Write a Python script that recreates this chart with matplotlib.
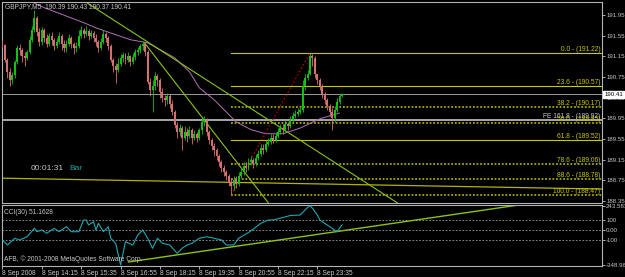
import matplotlib
matplotlib.use("Agg")
import matplotlib.pyplot as plt

plt.rcParams["font.family"] = ["Liberation Sans", "DejaVu Sans"]

# --- price data (GBPJPY M5), open of each bar = previous close ---
header_text = "GBPJPY,M5  190.39 190.43 190.37 190.41"
first_open = 191.43
closes = [
    191.37, 191.08, 190.85, 190.69, 190.79, 191.04, 191.31, 191.27, 191.16, 191.12,
    191.23, 191.47, 191.66, 191.89, 191.62, 191.43, 191.66, 191.51, 191.39, 191.54,
    191.47, 191.35, 191.43, 191.54, 191.39, 191.31, 191.39, 191.51, 191.39, 191.31,
    191.35, 191.54, 191.66, 191.58, 191.64, 191.54, 191.60, 191.51, 191.43, 191.31,
    191.43, 191.58, 191.51, 191.35, 191.08, 190.96, 190.89, 191.00, 191.12, 191.18,
    191.08, 191.16, 191.04, 191.14, 191.23, 191.27, 191.35, 191.39, 191.23, 190.65,
    190.50, 190.58, 190.77, 190.69, 190.46, 190.34, 190.31, 190.38, 190.23, 190.07,
    189.82, 189.69, 189.76, 189.57, 189.69, 189.61, 189.73, 189.57, 189.65, 189.57,
    189.73, 189.88, 189.92, 189.69, 189.53, 189.42, 189.34, 189.22, 189.11, 188.99,
    188.91, 188.84, 188.72, 188.64, 188.76, 188.68, 188.84, 188.91, 189.03, 188.99,
    189.11, 189.15, 189.07, 189.18, 189.26, 189.38, 189.34, 189.46, 189.49, 189.57,
    189.53, 189.61, 189.69, 189.76, 189.73, 189.84, 189.80, 189.92, 190.00, 190.04,
    190.07, 190.11, 190.58, 190.73, 190.81, 191.16, 191.12, 190.81, 190.69, 190.58,
    190.42, 190.31, 190.19, 190.07, 189.96, 190.11, 190.27, 190.39, 190.41,
]
highs = [
    191.47, 191.39, 191.12, 190.92, 190.85, 191.08, 191.37, 191.39, 191.31, 191.23,
    191.27, 191.54, 191.74, 192.05, 191.93, 191.70, 191.72, 191.70, 191.58, 191.60,
    191.62, 191.51, 191.51, 191.62, 191.58, 191.47, 191.47, 191.58, 191.54, 191.43,
    191.43, 191.66, 191.74, 191.70, 191.74, 191.68, 191.66, 191.64, 191.58, 191.47,
    191.51, 191.66, 191.62, 191.54, 191.39, 191.12, 191.02, 191.12, 191.20, 191.23,
    191.22, 191.23, 191.18, 191.22, 191.29, 191.33, 191.39, 191.45, 191.41, 191.27,
    190.73, 190.69, 190.85, 190.81, 190.73, 190.54, 190.40, 190.44, 190.42, 190.31,
    190.11, 189.88, 189.84, 189.80, 189.80, 189.76, 189.80, 189.76, 189.73, 189.69,
    189.76, 189.96, 190.00, 189.96, 189.73, 189.57, 189.47, 189.38, 189.26, 189.15,
    189.05, 188.95, 188.87, 188.80, 188.84, 188.84, 188.91, 188.99, 189.11, 189.11,
    189.18, 189.22, 189.18, 189.26, 189.34, 189.46, 189.46, 189.53, 189.57, 189.65,
    189.65, 189.69, 189.76, 189.84, 189.84, 189.92, 189.88, 190.00, 190.07, 190.11,
    190.15, 190.19, 190.69, 190.81, 190.89, 191.22, 191.20, 191.16, 190.81, 190.73,
    190.62, 190.46, 190.34, 190.23, 190.15, 190.19, 190.34, 190.42, 190.43,
]
lows = [
    191.31, 191.04, 190.73, 190.58, 190.62, 190.73, 191.00, 191.18, 191.04, 190.96,
    191.08, 191.20, 191.43, 191.62, 191.54, 191.35, 191.37, 191.43, 191.33, 191.35,
    191.37, 191.27, 191.31, 191.39, 191.27, 191.23, 191.23, 191.35, 191.31, 191.20,
    191.23, 191.31, 191.51, 191.51, 191.54, 191.47, 191.51, 191.43, 191.35, 191.23,
    191.27, 191.39, 191.43, 191.27, 191.04, 190.85, 190.63, 190.85, 190.96, 191.04,
    191.00, 191.04, 190.96, 191.00, 191.08, 191.18, 191.22, 191.27, 191.16, 190.62,
    190.38, 190.07, 190.50, 190.58, 190.34, 190.27, 190.19, 190.23, 190.15, 190.02,
    189.76, 189.57, 189.61, 189.34, 189.53, 189.49, 189.57, 189.46, 189.53, 189.49,
    189.53, 189.65, 189.80, 189.61, 189.46, 189.34, 189.22, 189.15, 189.03, 188.91,
    188.84, 188.76, 188.64, 188.47, 188.57, 188.60, 188.64, 188.80, 188.86, 188.91,
    188.95, 189.05, 188.99, 189.03, 189.15, 189.22, 189.26, 189.30, 189.42, 189.46,
    189.47, 189.49, 189.57, 189.65, 189.65, 189.69, 189.73, 189.76, 189.88, 189.96,
    190.00, 190.04, 190.07, 190.50, 190.69, 190.79, 190.96, 190.73, 190.62, 190.50,
    190.34, 190.23, 190.11, 190.00, 189.73, 189.88, 190.07, 190.23, 190.37,
]

# moving average (purple) sampled along the chart
ma_idx = [11, 17, 33, 38, 44, 52, 59, 70, 76, 80, 86, 91, 95, 101, 107, 114, 121, 129, 137]
ma_vals = [192.22, 192.09, 191.80, 191.70, 191.60, 191.47, 191.41, 191.12, 190.85, 190.54,
           190.31, 190.07, 189.88, 189.73, 189.65, 189.65, 189.76, 189.94, 190.05]

# Fibonacci retracement
fib_low, fib_high = 188.47, 191.22
fib_low_idx, fib_high_idx = 93, 125
fib_ratios = [0.0, 23.6, 38.2, 50.0, 61.8, 78.6, 88.6, 100.0]
fib_dotted = [False, False, True, True, False, True, True, True]
fe_level = 189.92
last_price = 190.41

# trend lines (bar index, price)
trend_a_idx, trend_a_px = [32.5, 160.6], [192.24, 188.31]
trend_b_idx, trend_b_px = [57.7, 108.1], [191.41, 188.31]
trend_c_idx, trend_c_px = [0, 243.7], [188.79, 188.58]

# CCI(30)
cci_idx = [0, 2, 5, 7, 10, 13, 14, 16, 18, 21, 23, 26, 28, 31, 33, 34, 35, 37, 38, 39,
           41, 43, 44, 46, 48, 50, 53, 55, 57, 59, 61, 63, 65, 68, 71, 73, 75, 77, 80, 83,
           86, 89, 91, 94, 96, 100, 102, 105, 108, 110, 114, 117, 121, 124, 125, 126, 128,
           129, 130, 135, 136, 138]
cci_vals = [-100, -150, -83, -100, -67, 17, -17, 0, -33, 17, -17, 33, -17, -17, 100, 100,
            50, 83, 0, 67, -17, 33, -83, -133, -349, -117, -150, -50, 0, -83, -183, -83,
            -133, -150, -233, -183, -150, -133, -83, -67, -83, -100, -150, -150, -83, -25,
            10, 67, 100, 100, 125, 145, 150, 225, 243, 217, 150, 100, 83, 0, -17, 51.16]
cci_trend_idx, cci_trend_vals = [51.2, 211.8], [-320, 257]

price_ticks = [188.35, 188.75, 189.15, 189.55, 189.95, 190.35, 190.75, 191.15, 191.55, 191.95]
cci_ticks = [243.583, 100, 0, -100, -348.968]
cci_tick_labels = ["243.583", "100", "0.00", "-100", "-348.968"]
time_idx = [0, 16, 32, 48, 64, 80, 96, 112, 128]
time_labels = ["8 Sep 2008", "8 Sep 14:15", "8 Sep 15:35", "8 Sep 16:55", "8 Sep 18:15",
               "8 Sep 19:35", "8 Sep 20:55", "8 Sep 22:15", "8 Sep 23:35"]

BG = "black"
FG = "#c8c8c8"
BULL = "#14c014"
BEAR = "#d67070"
YEL = "#c8c800"
TREND = "#8cc21a"
FS = 4.8
AXFS = 4.4

fig = plt.figure(figsize=(6.25, 2.77), dpi=100, facecolor=BG)
ax = fig.add_axes([2 / 625, 1 - 203 / 277, 600 / 625, 201 / 277], facecolor=BG)
ax2 = fig.add_axes([2 / 625, 1 - 266 / 277, 600 / 625, 61 / 277], facecolor=BG)

xlim = (-0.2, 243.7)
for a in (ax, ax2):
    a.set_xlim(*xlim)
    for s in a.spines.values():
        s.set_color("#b4b4b4")
        s.set_linewidth(0.8)

# candles
idx = list(range(len(closes)))
opens = [first_open] + closes[:-1]
for i, o, h, l, c in zip(idx, opens, highs, lows, closes):
    col = BULL if c >= o else BEAR
    ax.vlines(i, l, h, color=col, lw=0.6, zorder=3)
    body = max(abs(c - o), 0.008)
    ax.bar(i, body, bottom=min(o, c), width=0.8, color=col, lw=0, zorder=3)

ax.plot(ma_idx, ma_vals, color="#b070b8", lw=0.7, zorder=2)

# horizontal gray lines
ax.axhline(last_price, color="#9a9a9a", lw=0.7, zorder=1)
ax.axhline(fe_level, color="#c4c4c4", lw=1.2, zorder=1)
ax.text(243, fe_level + 0.005, "FE 161.8 - (%.2f)" % fe_level, ha="right", va="bottom",
        color=FG, fontsize=FS, zorder=5)

# fibonacci levels
span = fib_high - fib_low
for r, dotted in zip(fib_ratios, fib_dotted):
    lvl = round(fib_high - r / 100.0 * span + 1e-9, 2)
    if dotted:
        ax.plot([fib_low_idx, xlim[1]], [lvl, lvl], color="#a8a800", lw=1.3,
                ls=(0, (1, 1)), zorder=1)
    else:
        ax.plot([fib_low_idx, xlim[1]], [lvl, lvl], color=YEL, lw=0.8, zorder=1)
    ax.text(243, lvl, "%.1f - (%.2f)" % (r, lvl), ha="right", va="bottom",
            color=YEL, fontsize=FS, zorder=5)
ax.plot([fib_low_idx, fib_high_idx], [fib_low, fib_high], color="#c00000", lw=0.8,
        ls=(0, (1.5, 2)), zorder=2)

# trend lines
ax.plot(trend_a_idx, trend_a_px, color=TREND, lw=0.8, zorder=2)
ax.plot(trend_b_idx, trend_b_px, color=TREND, lw=0.8, zorder=2)
ax.plot(trend_c_idx, trend_c_px, color="#b4b400", lw=0.9, zorder=2)

ax.set_ylim(188.31, 192.20)
ax.yaxis.tick_right()
ax.set_yticks(price_ticks)
ax.set_yticklabels(["%.2f" % t for t in price_ticks])
ax.tick_params(axis="y", colors=FG, labelsize=AXFS, length=2, width=0.6, pad=1)
ax.set_xticks([])
ax.text(1.004, last_price, "%.2f" % last_price, transform=ax.get_yaxis_transform(),
        ha="left", va="center", fontsize=AXFS, color="black",
        bbox=dict(boxstyle="square,pad=0.15", fc="white", ec="white"), zorder=6,
        clip_on=False)

ax.text(0.005, 0.978, header_text, transform=ax.transAxes, ha="left", va="center",
        color=FG, fontsize=FS)
ax.text(0.047, 0.17, "00:01:31", transform=ax.transAxes, ha="left", va="center",
        color=FG, fontsize=6)
ax.text(0.112, 0.17, "Bar", transform=ax.transAxes, ha="left", va="center",
        color="#1aa5a5", fontsize=6)

# CCI panel
for lv in (100, 0, -100):
    ax2.axhline(lv, color="#a0a0a0", lw=0.6, ls=(0, (2, 2)), zorder=1)
ax2.plot(cci_idx, cci_vals, color="#1fa8b4", lw=0.8, zorder=3)
ax2.plot(cci_trend_idx, cci_trend_vals, color=TREND, lw=1.0, zorder=2)
ax2.set_ylim(-360, 250)
ax2.yaxis.tick_right()
ax2.set_yticks(cci_ticks)
ax2.set_yticklabels(cci_tick_labels)
ax2.tick_params(axis="y", colors=FG, labelsize=AXFS, length=2, width=0.6, pad=1)
ax2.set_xticks(time_idx)
ax2.set_xticklabels(time_labels, ha="left")
ax2.tick_params(axis="x", colors=FG, labelsize=FS, length=2, width=0.6, pad=1)
ax2.text(0.003, 0.88, "CCI(30) 51.1628", transform=ax2.transAxes, ha="left",
         va="center", color=FG, fontsize=FS)
ax2.text(0.003, 0.11, "AFB, \u00a9 2001-2008 MetaQuotes Software Corp.",
         transform=ax2.transAxes, ha="left", va="center", color=FG, fontsize=FS)

fig.savefig("out.png", dpi=100, facecolor=BG)
